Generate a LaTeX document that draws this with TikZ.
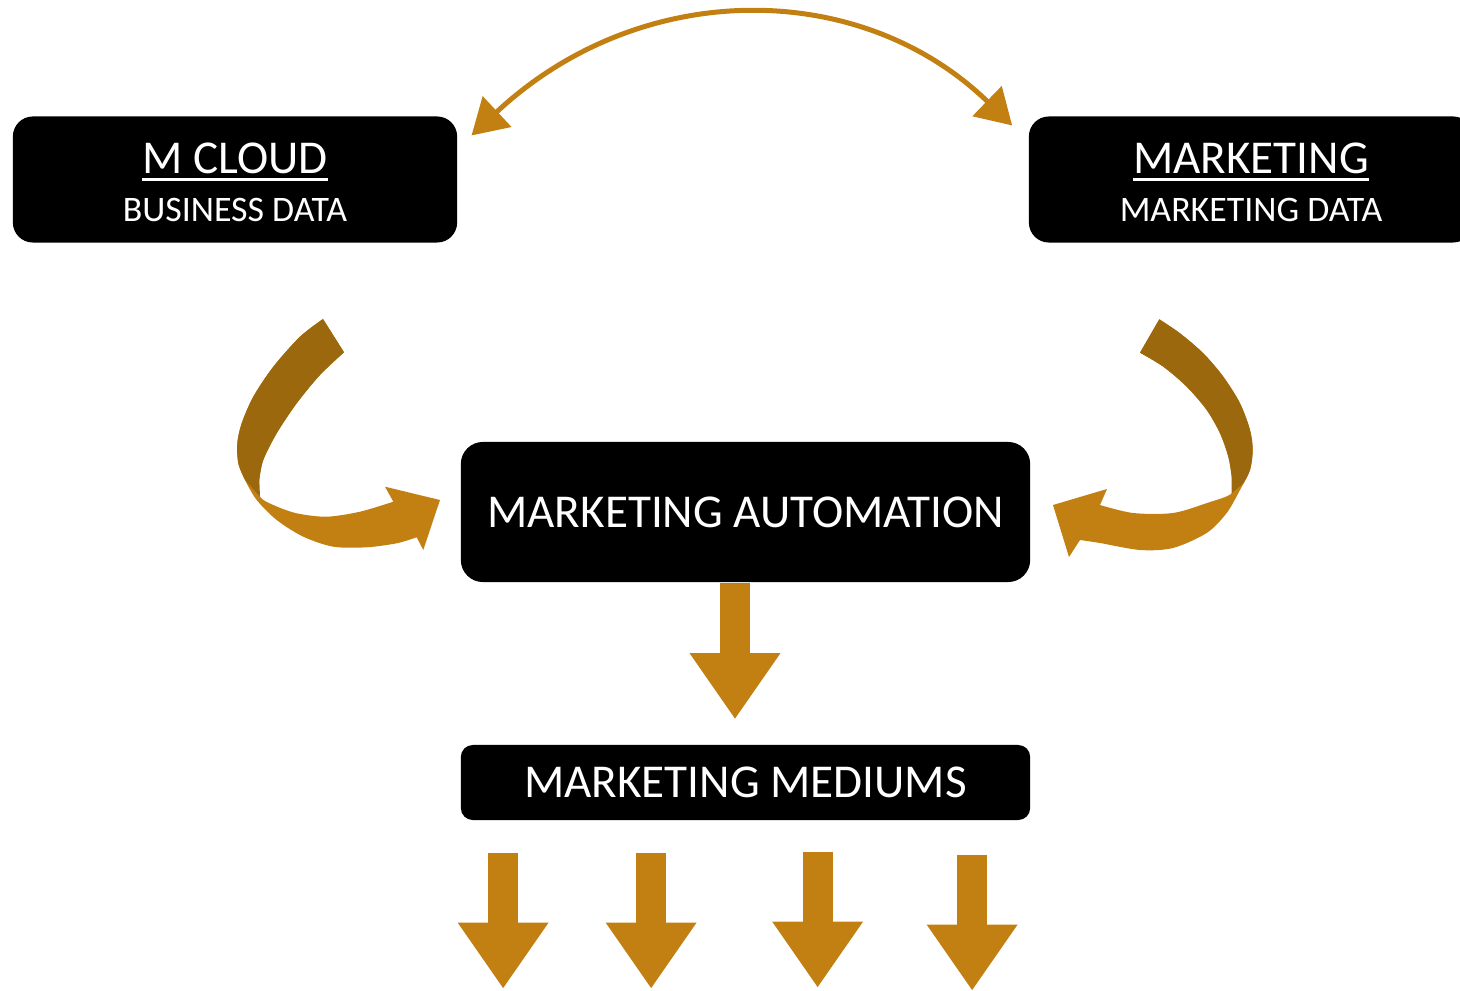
\documentclass[tikz,border=0pt]{standalone}
\usepackage{fontspec}
\setmainfont{Carlito}
\usetikzlibrary{arrows.meta}

\definecolor{gold}{RGB}{195,128,18}
\definecolor{darkgold}{RGB}{156,104,14}
\newcommand{\bigtext}{\fontsize{13.4pt}{13.6pt}\selectfont}
\newcommand{\smalltext}{\fontsize{10.2pt}{13.6pt}\selectfont}
\newsavebox{\undbox}
\newcommand{\undertext}[1]{\sbox{\undbox}{#1}%
    \rlap{\rule[-2pt]{\wd\undbox}{0.7pt}}\usebox{\undbox}}

\begin{document}
\begin{tikzpicture}
    [x=0.01cm, y=-0.01cm,
     box/.style={fill=black, text=white, inner sep=0pt,
        align=center, font=\bigtext},
     twoway/.style={draw=gold, line width=0.05cm,
        {Triangle[length=3.5mm,width=4.1mm]}-{Triangle[length=3.5mm,width=4.1mm]}},
     fatdown/.style={draw=gold, line width=0.3cm,
        -{Triangle[length=6.6mm,width=8.6mm]}}]

    \useasboundingbox (0,0) rectangle (1460,991);

    % M Cloud
    \node [box,
        rounded corners=0.2cm,
        minimum width=4.44cm,
        minimum height=1.26cm]
        (mcloud) at (235,179.5)
        {\rule{0pt}{10.3pt}\undertext{M CLOUD}\\{\smalltext BUSINESS DATA}};

    % Marketing
    \node [box,
        rounded corners=0.2cm,
        minimum width=4.44cm,
        minimum height=1.26cm]
        (marketing) at (1251,179.5)
        {\rule{0pt}{10.3pt}\undertext{MARKETING}\\{\smalltext MARKETING DATA}};

    % Marketing automation
    \node [box,
        rounded corners=0.22cm,
        minimum width=5.69cm,
        minimum height=1.40cm]
        (automation) at (745.5,512) {MARKETING AUTOMATION};

    % Marketing mediums
    \node [box,
        rounded corners=0.12cm,
        minimum width=5.69cm,
        minimum height=0.75cm]
        (mediums) at (745.5,782.5) {MARKETING MEDIUMS};

    % Two-way arc
    \draw [twoway] ([shift={(13.7,19.7)}]mcloud.north east)
        .. controls (640,-22) and (860,-22) .. ([shift={(-16,9.7)}]marketing.north west);

    % Left curved arrow
    \fill [gold] plot [smooth] coordinates {(323,319) (300,336.7) (273.3,366.7)
        (253.3,396.7) (241.7,423.3) (237.3,443.3) (238.3,463.3) (245,480)
        (256.7,500) (276.7,520) (303.3,536.7) (333.3,546.7) (366.7,547.3)
        (396.7,543.3) (416.7,537.3)}
        -- (423.3,550) -- (440,500) -- (385,486.7)
        -- plot [smooth] coordinates {(393.3,501.7) (360,511.7) (326.7,516.7)
        (296.7,513.3) (273.3,505) (260,496.7) (259.3,480) (263.3,460)
        (276.7,433.3) (296.7,403.3) (320,375) (344,352.3)} -- cycle;
    \fill [darkgold] plot [smooth] coordinates {(323,319) (300,336.7) (273.3,366.7)
        (253.3,396.7) (241.7,423.3) (237.3,443.3) (238.3,463.3) (245,480)}
        -- (260,496.7)
        -- plot [smooth] coordinates {(259.3,480) (263.3,460) (276.7,433.3)
        (296.7,403.3) (320,375) (344,352.3)} -- cycle;

    % Right curved arrow
    \fill [gold] plot [smooth] coordinates {(1159.3,319.3) (1180,333.3)
        (1203.3,353.3) (1223.3,376.7) (1240,403.3) (1250,430) (1252.7,450)
        (1250,470) (1240,490) (1226.7,513) (1206.7,533) (1173,548)
        (1140,550) (1100,543) (1080,540)}
        -- (1069,557) -- (1053,505) -- (1107,489)
        -- plot [smooth] coordinates {(1100,505) (1133,513) (1173,513)
        (1207,503) (1231.7,493.3) (1231.7,476.7) (1228.3,456.7) (1220,433.3)
        (1206.7,410) (1186.7,386.7) (1163.3,366.7) (1140,352.7)} -- cycle;
    \fill [darkgold] plot [smooth] coordinates {(1159.3,319.3) (1180,333.3)
        (1203.3,353.3) (1223.3,376.7) (1240,403.3) (1250,430) (1252.7,450)
        (1250,470) (1243.3,483.3)}
        -- (1231.7,493.3)
        -- plot [smooth] coordinates {(1231.7,476.7) (1228.3,456.7) (1220,433.3)
        (1206.7,410) (1186.7,386.7) (1163.3,366.7) (1140,352.7)} -- cycle;

    % Automation to mediums
    \draw [fatdown] ([shift={(-10.5,0)}]automation.south)
        -- ([shift={(-10.5,-25)}]mediums.north);

    % Outgoing mediums
    \foreach \dx/\dy in {43/32, 191/32, 357.5/31, 512/34}
        \draw [fatdown] ([shift={(\dx,\dy)}]mediums.south west) -- ++(0,136);
\end{tikzpicture}
\end{document}
